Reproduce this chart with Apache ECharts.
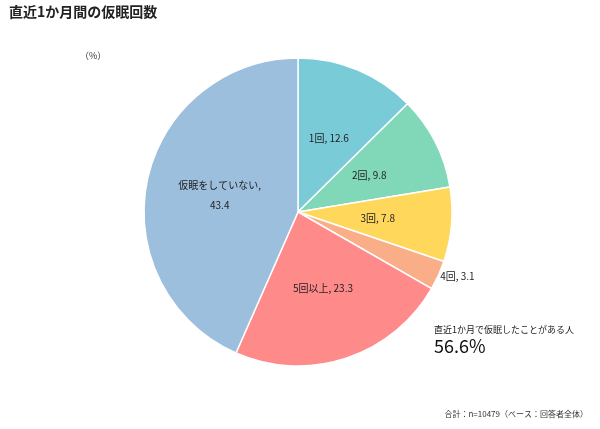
<!DOCTYPE html>
<html><head><meta charset="utf-8">
<script src="https://cdn.jsdelivr.net/npm/echarts@6/dist/echarts.min.js"></script>
<style>html,body{margin:0;padding:0;background:#fff}#c{width:600px;height:429px}</style>
</head><body><div id="c"></div>
<script>
const categories = ['1回','2回','3回','4回','5回以上','仮眠をしていない'];
const values = [12.6, 9.8, 7.8, 3.1, 23.3, 43.4];
const colors = ['#7ACBD8','#80D8B8','#FFD75A','#F9AE87','#FF8A8A','#9DBFDE'];
const F = '"Noto Sans CJK JP", sans-serif';
const data = categories.map((c,i)=>{
  const d = {name:c, value:values[i], itemStyle:{color:colors[i]}};
  if (c==='4回') d.label = {position:'outside', distanceToLabelLine:0};
  if (c==='仮眠をしていない') d.label = {formatter:'{b},\n\n{c}', lineHeight:10};
  return d;
});
const chart = echarts.init(document.getElementById('c'));
chart.setOption({
  animation:false,
  graphic:[
    {type:'text', left:9, top:5, style:{text:'直近1か月間の仮眠回数', font:'bold 14px '+F, fill:'#222'}},
    {type:'text', left:80, top:51, style:{text:'（%）', font:'9px '+F, fill:'#333'}},
    {type:'text', left:434, top:325, style:{text:'直近1か月で仮眠したことがある人', font:'9px '+F, fill:'#222'}},
    {type:'text', left:434, top:337, style:{text:'56.6%', font:'18px '+F, fill:'#111'}},
    {type:'text', right:12, top:410, style:{text:'合計：n=10479（ベース：回答者全体）', font:'8px '+F, fill:'#333'}}
  ],
  series:[{
    type:'pie', center:[298,212], radius:[0,154], startAngle:90, clockwise:true,
    itemStyle:{borderColor:'#fff', borderWidth:1.5},
    label:{position:'inside', formatter:'{b}, {c}', fontSize:10, fontFamily:F, color:'#222'},
    labelLine:{show:false, length:2, length2:0},
    data:data
  }]
});
</script></body></html>
